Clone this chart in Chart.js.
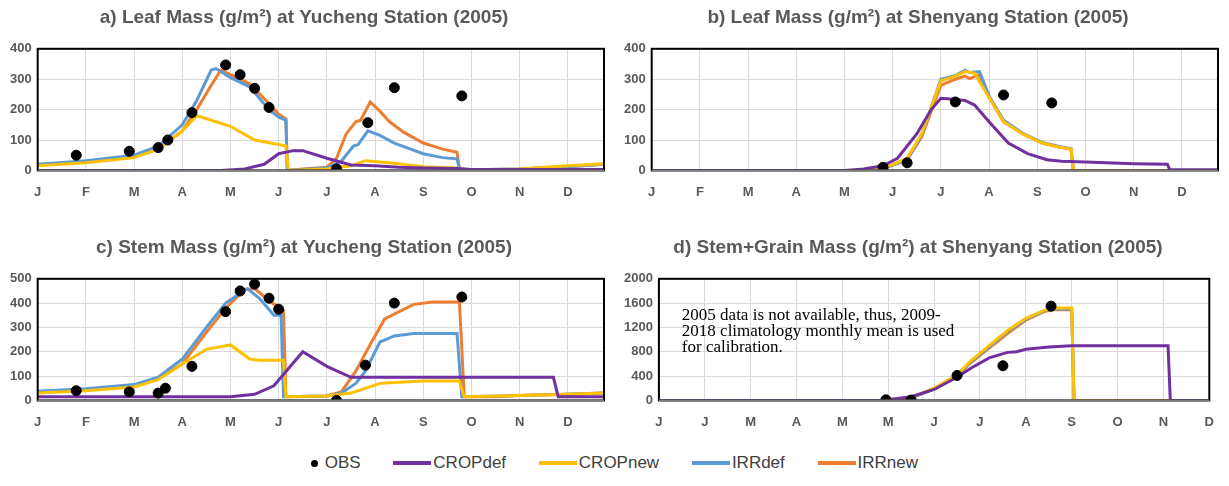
<!DOCTYPE html>
<html>
<head>
<meta charset="utf-8">
<script src="https://cdn.jsdelivr.net/npm/chart.js@4"></script>
<style>
  body { margin: 0; background: #fff; width: 1229px; height: 486px; overflow: hidden; font-family: "Liberation Sans", Arial, sans-serif; }
  .box { position: absolute; width: 614px; height: 216px; }
  #legend { position: absolute; top: 452px; left: 0; width: 1229px; text-align: center; font-size: 17px; color: #404040; font-family: "Liberation Sans Narrow", "Liberation Sans", Arial, sans-serif; }
  #legend span { display: inline-block; margin: 0 14px; vertical-align: middle; }
  #legend i { display: inline-block; width: 38px; height: 4px; vertical-align: middle; margin-right: 2px; }
</style>
</head>
<body>
<div class="box" style="left:0;top:0"><canvas id="ca"></canvas></div>
<div class="box" style="left:614px;top:0"><canvas id="cb"></canvas></div>
<div class="box" style="left:0;top:230px"><canvas id="cc"></canvas></div>
<div class="box" style="left:614px;top:230px"><canvas id="cd"></canvas></div>
<div id="legend">
  <span><i style="width:7px;height:7px;border-radius:50%;background:#000"></i> OBS</span>
  <span><i style="background:#7030A0"></i>CROPdef</span>
  <span><i style="background:#FFC000"></i>CROPnew</span>
  <span><i style="background:#5B9BD5"></i>IRRdef</span>
  <span><i style="background:#ED7D31"></i>IRRnew</span>
</div>
<script>
// x values are months since 1 January (0 = J, 1 = F ...)
const monthLabels = ['J','F','M','A','M','J','J','A','S','O','N','D'];
const monthLabelsD = ['J','J','M','A','M','M','J','J','A','S','O','N','D'];

// a) Leaf mass, Yucheng
const leafYcObs = [[0.8,50],[1.9,63],[2.5,75],[2.7,100],[3.2,190],[3.9,347],[4.2,315],[4.5,270],[4.8,207],[6.2,5],[6.85,157],[7.4,272],[8.8,245]];
const leafYcCropdef = [[0,0],[3.8,0],[4.3,5],[4.7,20],[5.0,55],[5.3,65],[5.5,65],[6.0,40],[6.5,18],[7,15],[7.5,10],[8,8],[8.7,6],[9,3],[11.75,3]];
const leafYcCropnew = [[0,15],[1,25],[2,42],[2.5,70],[3,130],[3.3,180],[3.6,165],[4.0,145],[4.5,100],[5,85],[5.15,80],[5.2,0],[6,5],[6.5,15],[6.8,32],[7.3,25],[8,12],[8.7,8],[8.8,0],[9,0],[10,5],[11,15],[11.75,22]];
const leafYcIrrdef = [[0,20],[1,32],[2,50],[2.5,80],[3,150],[3.3,230],[3.6,330],[3.7,335],[4.0,305],[4.4,275],[4.8,200],[5.0,175],[5.15,165],[5.18,0],[6.0,8],[6.3,30],[6.55,80],[6.65,85],[6.85,130],[7.1,115],[7.4,90],[8,55],[8.4,42],[8.7,38],[8.75,5],[9,2],[10,5],[11,12],[11.75,20]];
const leafYcIrrnew = [[0,18],[1,28],[2,45],[2.5,70],[3,130],[3.3,200],[3.6,280],[3.8,330],[4.0,315],[4.4,285],[4.8,220],[5.0,185],[5.15,170],[5.18,0],[5.5,5],[6.0,10],[6.2,40],[6.4,120],[6.6,160],[6.7,165],[6.9,225],[7.1,195],[7.3,160],[7.6,125],[8,90],[8.4,70],[8.7,60],[8.75,5],[9,2],[10,5],[11,12],[11.75,20]];

// b) Leaf mass, Shenyang
const leafSyObs = [[4.8,10],[5.3,25],[6.3,225],[7.3,248],[8.3,222]];
const leafSyCropdef = [[0,0],[4.0,0],[4.4,5],[4.8,15],[5.1,40],[5.5,120],[5.8,200],[6.0,237],[6.2,235],[6.5,230],[6.7,215],[7.0,160],[7.4,90],[7.8,55],[8.2,35],[8.5,30],[9,28],[10,22],[10.7,20],[10.75,2],[11.75,2]];
const leafSyCropnew = [[0,0],[4.3,0],[4.8,5],[5.3,40],[5.6,120],[6.0,295],[6.3,310],[6.5,325],[6.7,320],[7.0,240],[7.3,160],[7.7,120],[8.1,90],[8.5,75],[8.7,70],[8.75,0],[11.75,0]];
const leafSyIrrdef = [[0,0],[4.3,0],[4.8,5],[5.3,35],[5.6,115],[6.0,300],[6.3,312],[6.5,330],[6.6,322],[6.8,325],[7.0,245],[7.3,165],[7.7,122],[8.1,92],[8.5,77],[8.7,72],[8.75,0],[11.75,0]];
const leafSyIrrnew = [[0,0],[4.3,0],[4.8,5],[5.3,35],[5.6,110],[6.0,280],[6.3,300],[6.5,310],[6.6,302],[6.8,315],[7.0,240],[7.3,160],[7.7,120],[8.1,90],[8.5,75],[8.7,70],[8.75,0],[11.75,0]];

// c) Stem mass, Yucheng
const stemYcObs = [[0.8,40],[1.9,35],[2.5,30],[2.65,50],[3.2,140],[3.9,365],[4.2,450],[4.5,478],[4.8,420],[5.0,375],[6.2,0],[6.8,145],[7.4,400],[8.8,425]];
const stemYcCropdef = [[0,15],[4,15],[4.5,25],[4.9,60],[5.2,130],[5.5,200],[6.0,140],[6.5,95],[10.7,95],[10.8,15],[11.75,15]];
const stemYcCropnew = [[0,30],[1,40],[2,55],[2.5,85],[3,150],[3.5,210],[3.9,225],[4.0,228],[4.4,170],[4.6,165],[5.1,165],[5.15,15],[6,18],[6.5,30],[6.8,50],[7.1,70],[7.5,75],[8,80],[8.75,80],[8.85,15],[10,20],[11,25],[11.75,30]];
const stemYcIrrdef = [[0,38],[1,48],[2,65],[2.5,95],[3,170],[3.5,300],[3.9,400],[4.35,460],[4.6,420],[4.9,350],[5.05,350],[5.1,15],[6,18],[6.3,30],[6.6,70],[6.8,120],[7.1,240],[7.4,265],[7.8,275],[8.7,275],[8.8,15],[10,20],[11,25],[11.75,30]];
const stemYcIrrnew = [[0,35],[1,45],[2,60],[2.5,90],[3,150],[3.5,280],[3.9,380],[4.3,455],[4.5,460],[4.8,410],[5.1,370],[5.15,15],[6,18],[6.3,35],[6.6,120],[6.9,230],[7.2,335],[7.5,365],[7.8,395],[8.2,405],[8.75,405],[8.85,15],[9.5,15],[10,20],[11,25],[11.75,30]];

// d) Stem+grain mass, Shenyang
const grainSyObs = [[4.95,10],[5.5,5],[6.5,410],[7.5,570],[8.55,1550]];
const grainSyCropdef = [[0,0],[4.8,0],[5.2,30],[5.5,60],[6.0,180],[6.5,380],[6.8,530],[7.2,700],[7.6,790],[7.8,800],[8,840],[8.5,880],[9,900],[11.1,900],[11.15,0],[12,0]];
const grainSyCropnew = [[0,0],[5.0,0],[5.5,50],[6.0,200],[6.5,420],[6.8,650],[7.2,900],[7.6,1150],[8.0,1350],[8.4,1480],[8.6,1520],[9.0,1520],[9.05,0],[12,0]];
const grainSyIrrdef = [[0,0],[5.0,0],[5.5,45],[6.0,190],[6.5,410],[6.8,635],[7.2,880],[7.6,1130],[8.0,1335],[8.4,1470],[8.6,1505],[9.0,1505],[9.05,0],[12,0]];
const grainSyIrrnew = [[0,0],[5.0,0],[5.5,45],[6.0,185],[6.5,400],[6.8,620],[7.2,860],[7.6,1100],[8.0,1320],[8.4,1460],[8.6,1490],[9.0,1490],[9.05,0],[12,0]];

const noteLines = ['2005 data is not available, thus, 2009-', '2018 climatology monthly mean is used', 'for calibration.'];

const GREY = '#595959';
const pts = arr => arr.map(p => ({x: p[0], y: p[1]}));

// black frame round the plot area
const framePlugin = {
    id: 'frame',
    afterDraw(chart) {
        const a = chart.chartArea, c = chart.ctx;
        c.save();
        c.strokeStyle = '#000';
        c.lineWidth = 2;
        c.strokeRect(a.left, a.top, a.right - a.left, a.bottom - a.top);
        c.strokeStyle = '#7f7f7f';
        c.beginPath();
        c.moveTo(a.left, chart.scales.y.getPixelForValue(0));
        c.lineTo(a.right, chart.scales.y.getPixelForValue(0));
        c.stroke();
        c.restore();
    }
};

// text note inside panel d
const notePlugin = {
    id: 'note',
    afterDatasetsDraw(chart, args, opts) {
        if (!opts.lines) return;
        const c = chart.ctx, sx = chart.scales.x, sy = chart.scales.y;
        c.save();
        c.font = '17px "Liberation Serif", "Times New Roman", serif';
        c.fillStyle = '#000';
        c.textBaseline = 'middle';
        opts.lines.forEach((t, i) => {
            c.fillText(t, sx.getPixelForValue(0.5), sy.getPixelForValue(1400 - i * 265));
        });
        c.restore();
    }
};

function makeChart(id, title, obs, cropdef, cropnew, irrdef, irrnew, yMax, yStep, xMax, labels, note) {
    const line = (label, data, color) => ({
        type: 'line', label, data: pts(data), borderColor: color, backgroundColor: color,
        borderWidth: 3, pointRadius: 0, tension: 0, fill: false
    });
    new Chart(document.getElementById(id), {
        type: 'scatter',
        data: {
            datasets: [
                {label: 'OBS', data: pts(obs), backgroundColor: '#000', borderColor: '#000', pointRadius: 5, order: 0},
                Object.assign(line('CROPdef', cropdef, '#7030A0'), {order: 1}),
                Object.assign(line('CROPnew', cropnew, '#FFC000'), {order: 2}),
                Object.assign(line('IRRdef', irrdef, '#5B9BD5'), {order: 3}),
                Object.assign(line('IRRnew', irrnew, '#ED7D31'), {order: 4})
            ]
        },
        options: {
            responsive: true,
            maintainAspectRatio: false,
            animation: false,
            layout: {padding: {left: 4, right: 10, top: 0, bottom: 2}},
            plugins: {
                legend: {display: false},
                tooltip: {enabled: false},
                title: {display: true, text: title, color: GREY, font: {size: 19, weight: 'bold', family: '"Liberation Sans", Arial'}, padding: {top: 6, bottom: 20}},
                note: {lines: note}
            },
            scales: {
                x: {
                    type: 'linear', min: 0, max: xMax,
                    afterBuildTicks: ax => { ax.ticks = labels.map((l, i) => ({value: i})).filter(t => t.value <= xMax); },
                    ticks: {callback: v => labels[v], color: GREY, font: {size: 13, weight: 'bold', family: '"Liberation Sans Narrow", "Liberation Sans"'}, padding: 14, maxRotation: 0, autoSkip: false},
                    grid: {color: '#d9d9d9', drawTicks: false},
                    border: {display: false}
                },
                y: {
                    min: 0, max: yMax,
                    ticks: {stepSize: yStep, callback: v => String(v), color: GREY, font: {size: 13, weight: 'bold', family: '"Liberation Sans Narrow", "Liberation Sans"'}, padding: 6},
                    grid: {color: '#d9d9d9', drawTicks: false},
                    border: {display: false}
                }
            }
        },
        plugins: [framePlugin, notePlugin]
    });
}

makeChart('ca', 'a) Leaf Mass (g/m²) at Yucheng Station (2005)', leafYcObs, leafYcCropdef, leafYcCropnew, leafYcIrrdef, leafYcIrrnew, 400, 100, 11.75, monthLabels, null);
makeChart('cb', 'b) Leaf Mass (g/m²) at Shenyang Station (2005)', leafSyObs, leafSyCropdef, leafSyCropnew, leafSyIrrdef, leafSyIrrnew, 400, 100, 11.75, monthLabels, null);
makeChart('cc', 'c) Stem Mass (g/m²) at Yucheng Station (2005)', stemYcObs, stemYcCropdef, stemYcCropnew, stemYcIrrdef, stemYcIrrnew, 500, 100, 11.75, monthLabels, null);
makeChart('cd', 'd) Stem+Grain Mass (g/m²) at Shenyang Station (2005)', grainSyObs, grainSyCropdef, grainSyCropnew, grainSyIrrdef, grainSyIrrnew, 2000, 400, 12, monthLabelsD, noteLines);
</script>
</body>
</html>
